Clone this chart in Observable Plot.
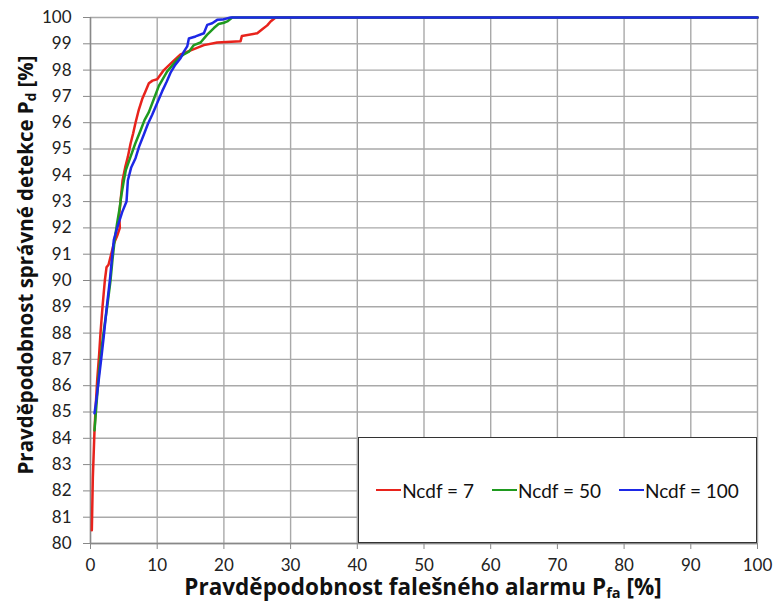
<!DOCTYPE html>
<html><head><meta charset="utf-8">
<script src="https://cdn.jsdelivr.net/npm/d3@7"></script>
<script src="https://cdn.jsdelivr.net/npm/@observablehq/plot@0.6"></script>
<style>
body{margin:0;background:#fff;}
#wrap{position:relative;width:775px;height:604px;font-family:Lato,"Open Sans",sans-serif;}
#legend{position:absolute;left:358px;top:437px;width:397px;height:104px;border:1.5px solid #333;background:#fff;display:flex;align-items:center;justify-content:center;gap:18px;font-size:19px;color:#111;}
#legend .it{display:flex;align-items:center;}
#legend .sw{display:inline-block;width:25px;height:0;border-top:2.5px solid;margin-right:1px;}
#xt{position:absolute;left:0;width:846px;top:575px;text-align:center;font-family:"Open Sans",sans-serif;font-weight:bold;font-size:22.5px;line-height:24px;color:#111;}
#yt{position:absolute;left:25px;top:265px;transform:translate(-50%,-50%) rotate(-90deg);white-space:nowrap;font-family:"Open Sans",sans-serif;font-weight:bold;font-size:20.5px;line-height:24px;color:#111;}
sub{font-size:65%;line-height:0;vertical-align:-3px;}
</style></head>
<body><div id="wrap"></div>
<script>
const xTicks = [0,10,20,30,40,50,60,70,80,90,100];
const yTicks = d3.range(80, 101, 1);
const seriesNames = ["Ncdf = 7", "Ncdf = 50", "Ncdf = 100"];
const seriesColors = ["#e8231c", "#1f9a1f", "#1d28e6"];

const redX = [0.2,0.35,0.6,0.8,1.0,1.3,1.5,1.8,2.15,2.4,2.7,3.1,3.5,4.0,4.4,4.3,4.5,4.8,5.2,5.6,6.0,6.4,6.75,7.25,7.75,8.25,8.75,9.3,10.0,11.0,12.25,13.5,15.5,17.0,19.0,22.5,22.7,25.0,25.75,26.5,27.0,27.75,100];
const redY = [80.5,82.5,84.3,85.3,86.2,87.2,88.0,89.0,90.0,90.5,90.6,91.0,91.4,91.7,92.0,92.5,93.0,93.8,94.3,94.7,95.2,95.6,96.0,96.5,96.9,97.2,97.5,97.6,97.65,98.0,98.3,98.6,98.8,98.95,99.05,99.1,99.3,99.4,99.55,99.7,99.85,100,100];

const greenX = [0.6,0.9,1.3,1.7,2.0,2.5,3.0,3.3,3.65,4.0,4.4,4.6,5.0,5.3,6.0,6.7,7.5,8.1,8.75,9.5,10.25,11.5,13.0,14.0,14.75,15.5,16.5,17.5,18.5,19.2,20.0,20.5,21.25,100];
const greenY = [84.3,85.3,86.6,87.5,88.1,89.0,90.0,90.8,91.6,92.2,92.8,93.2,93.8,94.2,94.7,95.2,95.7,96.1,96.4,96.9,97.4,97.95,98.4,98.6,98.7,98.95,99.05,99.35,99.6,99.75,99.8,99.85,100,100];

const blueX = [0.6,0.9,1.25,1.6,2.0,2.4,2.9,3.2,3.5,4.0,4.75,5.4,5.6,6.1,6.75,7.3,8.0,8.6,9.25,10.0,10.75,11.4,12.0,12.7,13.5,14.0,14.5,14.75,15.75,17.0,17.5,18.25,19.0,19.75,21.0,100];
const blueY = [84.95,85.5,86.25,87.0,87.9,88.9,90.0,90.8,91.55,92.0,92.6,93.0,93.8,94.3,94.65,95.1,95.55,95.95,96.3,96.75,97.2,97.55,97.9,98.2,98.45,98.7,98.9,99.2,99.28,99.4,99.72,99.78,99.91,99.92,100,100];

const rows = [];
[[redX,redY],[greenX,greenY],[blueX,blueY]].forEach(([xs,ys],i)=>{
  xs.forEach((x,j)=>rows.push({x, y: ys[j], s: seriesNames[i]}));
});

const chart = Plot.plot({
  width: 775, height: 604,
  marginLeft: 90, marginRight: 18, marginTop: 17, marginBottom: 61,
  style: {fontFamily: "Lato, 'Open Sans', sans-serif", fontSize: "17px", color: "#222", background: "#fff"},
  x: {domain: [0, 100], ticks: xTicks, label: null},
  y: {domain: [80, 100], ticks: yTicks, label: null},
  color: {domain: seriesNames, range: seriesColors},
  marks: [
    Plot.gridX(xTicks, {stroke: "#a9a9a9", strokeOpacity: 1, strokeWidth: 1.4}),
    Plot.gridY(yTicks, {stroke: "#a9a9a9", strokeOpacity: 1, strokeWidth: 1.4}),
    Plot.axisX(xTicks, {tickSize: 6, tickPadding: 9, stroke: "#888", fill: "#222", label: null}),
    Plot.axisY(yTicks, {tickSize: 7, tickPadding: 12, stroke: "#888", fill: "#222", label: null}),
    Plot.ruleX([0], {stroke: "#888", strokeWidth: 1.4}),
    Plot.ruleY([80], {stroke: "#888", strokeWidth: 1.4}),
    Plot.line(rows, {x: "x", y: "y", z: "s", stroke: "s", strokeWidth: 2.5, strokeLinejoin: "round"})
  ]
});
const wrap = document.getElementById("wrap");
wrap.appendChild(chart);

const leg = document.createElement("div");
leg.id = "legend";
seriesNames.forEach((n,i)=>{
  const it = document.createElement("span"); it.className = "it";
  const sw = document.createElement("span"); sw.className = "sw"; sw.style.borderTopColor = seriesColors[i];
  it.appendChild(sw); it.appendChild(document.createTextNode(n));
  leg.appendChild(it);
});
wrap.appendChild(leg);

const xt = document.createElement("div"); xt.id = "xt";
xt.innerHTML = "Pravděpodobnost falešného alarmu P<sub>fa</sub> [%]";
wrap.appendChild(xt);
const yt = document.createElement("div"); yt.id = "yt";
yt.innerHTML = "Pravděpodobnost správné detekce P<sub>d</sub> [%]";
wrap.appendChild(yt);
</script>
</body></html>
